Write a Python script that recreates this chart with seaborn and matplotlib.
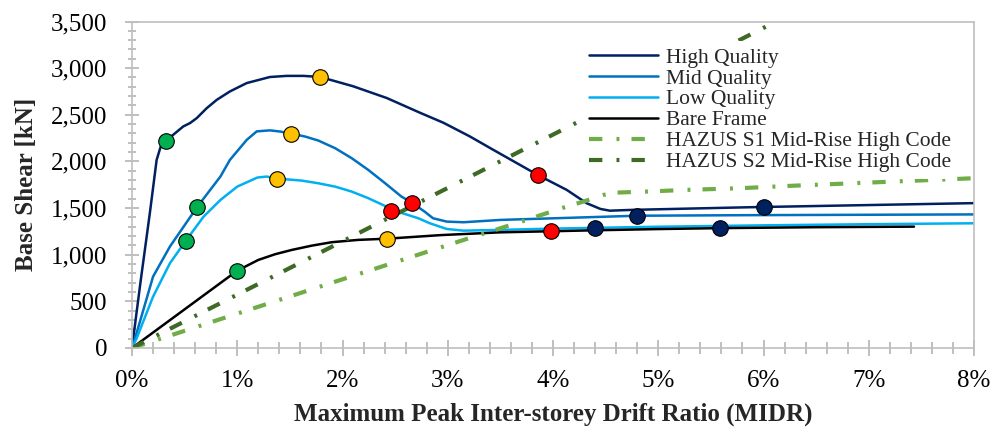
import matplotlib
matplotlib.use("Agg")
import matplotlib.pyplot as plt
from matplotlib.ticker import MultipleLocator, FuncFormatter
import pandas as pd
import seaborn as sns

# Capacity curves: maximum inter-storey drift (%) vs base shear (kN)
high_drift = [0, 0.08, 0.17, 0.234, 0.27, 0.323, 0.392, 0.487, 0.551, 0.615, 0.71, 0.805,
              0.93, 1.09, 1.31, 1.47, 1.628, 1.786, 2.10, 2.42, 2.74, 2.96, 3.21, 3.43,
              3.86, 4.13, 4.32, 4.45, 4.54, 4.76, 5.87, 8.0]
high_shear = [0, 700, 1450, 2016, 2150, 2222, 2286, 2375, 2411, 2464, 2571, 2660,
              2750, 2840, 2905, 2917, 2917, 2906, 2806, 2680, 2520, 2414, 2268, 2126,
              1852, 1695, 1552, 1491, 1472, 1481, 1509, 1553]

mid_drift = [0, 0.044, 0.2, 0.36, 0.62, 0.84, 0.93, 1.09, 1.185, 1.31, 1.41, 1.51,
             1.644, 1.77, 1.93, 2.087, 2.245, 2.404, 2.56, 2.66, 2.78, 2.86, 2.99, 3.15,
             3.50, 4.80, 5.87, 8.0]
mid_shear = [0, 161, 765, 1087, 1513, 1838, 2016, 2231, 2322, 2333, 2320, 2299,
             2267, 2224, 2142, 2035, 1909, 1767, 1623, 1558, 1462, 1391, 1355, 1348,
             1373, 1418, 1424, 1432]

low_drift = [0, 0.044, 0.2, 0.36, 0.51, 0.68, 0.84, 1.0, 1.19, 1.28, 1.38, 1.61,
             1.77, 1.93, 2.087, 2.245, 2.404, 2.50, 2.72, 2.83, 2.99, 3.15, 3.5, 4.0,
             5.0, 6.0, 7.0, 8.0]
low_shear = [0, 104, 550, 908, 1148, 1408, 1587, 1730, 1827, 1838, 1816, 1795,
             1766, 1730, 1677, 1606, 1523, 1470, 1391, 1337, 1276, 1258, 1266, 1280,
             1300, 1315, 1327, 1337]

bare_drift = [0, 1.0, 1.2, 1.359, 1.517, 1.707, 1.897, 2.15, 2.426, 2.93, 3.5, 4.0,
              4.4, 5.0, 5.59, 6.5, 7.43]
bare_shear = [0, 829, 944, 1005, 1051, 1097, 1134, 1159, 1172, 1210, 1240, 1252,
              1262, 1275, 1285, 1295, 1301]

s1_drift = [0, 1.786, 3.21, 3.70, 4.08, 4.29, 4.48, 4.605, 4.89, 5.27, 5.78, 6.25, 8.0]
s1_shear = [0, 658, 1180, 1355, 1498, 1570, 1641, 1666, 1677, 1695, 1713, 1738, 1820]

s2_drift = [0, 6.12]
s2_shear = [0, 3500]

# Performance-level points on each curve
green_drift = [0.323, 0.62, 0.51, 1.0]
green_shear = [2222, 1513, 1148, 829]
yellow_drift = [1.786, 1.51, 1.38, 2.426]
yellow_shear = [2906, 2297, 1816, 1172]
red_drift = [3.86, 2.66, 2.458, 3.98]
red_shear = [1852, 1558, 1473, 1255]
navy_drift = [6.0, 4.8, 4.4, 5.59]
navy_shear = [1510, 1418, 1290, 1290]

x_ticks = [0, 1, 2, 3, 4, 5, 6, 7, 8]
y_ticks = [0, 500, 1000, 1500, 2000, 2500, 3000, 3500]

sns.set_theme(style="white")
plt.rcParams["font.family"] = ["Liberation Serif", "DejaVu Serif"]
plt.rcParams["xtick.bottom"] = True
plt.rcParams["ytick.left"] = True

fig = plt.figure(figsize=(9.92, 4.29), dpi=100)
ax = fig.add_axes([132 / 992, (429 - 348) / 429, 842 / 992, 326.5 / 429])

curves = [
    ("High Quality", high_drift, high_shear, "#002060"),
    ("Mid Quality", mid_drift, mid_shear, "#0070C0"),
    ("Low Quality", low_drift, low_shear, "#00B0F0"),
    ("Bare Frame", bare_drift, bare_shear, "#000000"),
]
for name, xs, ys, col in curves:
    df = pd.DataFrame({"drift": xs, "shear": ys})
    sns.lineplot(data=df, x="drift", y="shear", ax=ax, color=col, linewidth=1.8,
                 sort=False, estimator=None, label=name)
    ax.lines[-1].set_solid_joinstyle("round")

hazus = [
    ("HAZUS S1 Mid-Rise High Code", s1_drift, s1_shear, "#70AD47"),
    ("HAZUS S2 Mid-Rise High Code", s2_drift, s2_shear, "#3E6A26"),
]
for name, xs, ys, col in hazus:
    df = pd.DataFrame({"drift": xs, "shear": ys})
    sns.lineplot(data=df, x="drift", y="shear", ax=ax, color=col, linewidth=3.0,
                 sort=False, estimator=None, label=name, dashes=False)
    ax.lines[-1].set_dashes((3.2, 3.4, 0.7, 2.9))

for xs, ys, col in [(green_drift, green_shear, "#00B050"),
                    (yellow_drift, yellow_shear, "#FFC000"),
                    (red_drift, red_shear, "#FF0000"),
                    (navy_drift, navy_shear, "#002060")]:
    sns.scatterplot(x=xs, y=ys, ax=ax, color=col, s=125, edgecolor="black",
                    linewidth=0.8, zorder=5, legend=False)

ax.set_xlim(0, 8)
ax.set_ylim(0, 3500)
ax.set_xticks(x_ticks)
ax.set_yticks(y_ticks)
ax.xaxis.set_minor_locator(MultipleLocator(0.2))
ax.yaxis.set_minor_locator(MultipleLocator(100))
ax.xaxis.set_major_formatter(FuncFormatter(lambda v, p: f"{v:.0f}%"))
ax.yaxis.set_major_formatter(FuncFormatter(lambda v, p: f"{v:,.0f}"))

grey = "#BFBFBF"
for sp in ax.spines.values():
    sp.set_visible(True)
    sp.set_color(grey)
    sp.set_linewidth(1.2)
ax.yaxis.set_tick_params(which="both", left=True, direction="inout", color=grey,
                         width=1.4, labelsize=18, labelcolor="black")
ax.xaxis.set_tick_params(which="both", bottom=True, direction="inout", color=grey,
                         width=1.4, labelsize=18, labelcolor="black")
ax.yaxis.set_tick_params(which="major", length=10, pad=13)
ax.yaxis.set_tick_params(which="minor", length=6)
ax.xaxis.set_tick_params(which="major", length=11, pad=10)
ax.xaxis.set_tick_params(which="minor", length=9)

ax.set_xlabel("Maximum Peak Inter-storey Drift Ratio (MIDR)", fontsize=18,
              fontweight="bold", labelpad=8)
ax.set_ylabel("Base Shear [kN]", fontsize=18, fontweight="bold", labelpad=9)

leg = ax.legend(loc="upper left", bbox_to_anchor=(0.5356, 0.940), fontsize=15.5,
                frameon=True, facecolor="white", edgecolor="none", framealpha=1,
                fancybox=False, borderpad=0.3, borderaxespad=0, handlelength=3.2,
                handletextpad=0.35, labelspacing=0.04)
leg.set_zorder(4)

fig.savefig("out.png", dpi=100)
